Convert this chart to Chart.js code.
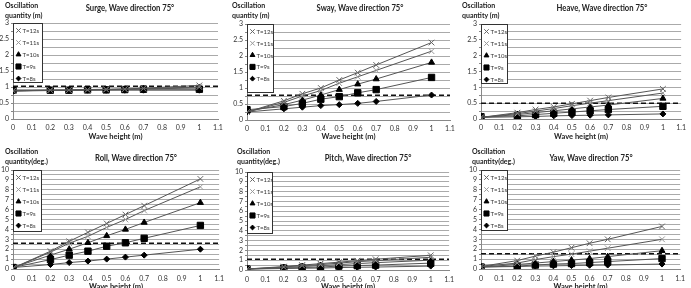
<!DOCTYPE html>
<html>
<head>
<meta charset="utf-8">
<script src="https://cdn.jsdelivr.net/npm/chart.js@4.4.1/dist/chart.umd.min.js"></script>
<style>
  body { margin: 0; background: #fff; }
  #wrap { position: relative; width: 691px; height: 288px; overflow: hidden; }
  canvas { position: absolute; }
</style>
</head>
<body>
<div id="wrap">
  <canvas id="cSurge" width="230" height="144" style="left:0;top:0"></canvas>
  <canvas id="cSway" width="230" height="144" style="left:230px;top:0"></canvas>
  <canvas id="cHeave" width="231" height="144" style="left:460px;top:0"></canvas>
  <canvas id="cRoll" width="230" height="144" style="left:0;top:144px"></canvas>
  <canvas id="cPitch" width="230" height="144" style="left:230px;top:144px"></canvas>
  <canvas id="cYaw" width="231" height="144" style="left:460px;top:144px"></canvas>
</div>
<script>
// wave heights (m)
var waveHeight = [0, 0.2, 0.3, 0.4, 0.5, 0.6, 0.7, 1.0];
var periods = ['T=12s', 'T=11s', 'T=10s', 'T=9s', 'T=8s'];
var xTicks = ['0', '0.1', '0.2', '0.3', '0.4', '0.5', '0.6', '0.7', '0.8', '0.9', '1', '1.1'];

// rows: T=12s, T=11s, T=10s, T=9s, T=8s
var surge = [
    [0.88, 0.90, 0.91, 0.92, 0.93, 0.94, 0.96, 1.05],
    [0.88, 0.90, 0.90, 0.91, 0.92, 0.93, 0.95, 1.00],
    [0.90, 0.90, 0.90, 0.91, 0.92, 0.93, 0.94, 0.97],
    [0.90, 0.90, 0.90, 0.91, 0.91, 0.92, 0.93, 0.93],
    [0.87, 0.89, 0.89, 0.90, 0.90, 0.90, 0.90, 0.90]
];
var sway = [
    [0.25, 0.60, 0.82, 1.00, 1.25, 1.48, 1.72, 2.42],
    [0.25, 0.55, 0.75, 0.92, 1.15, 1.35, 1.55, 2.15],
    [0.27, 0.48, 0.62, 0.78, 0.95, 1.12, 1.28, 1.80],
    [0.32, 0.42, 0.52, 0.65, 0.73, 0.85, 0.95, 1.33],
    [0.25, 0.35, 0.40, 0.45, 0.48, 0.52, 0.58, 0.78]
];
var heave = [
    [0.05, 0.20, 0.30, 0.38, 0.48, 0.58, 0.68, 0.95],
    [0.05, 0.17, 0.25, 0.33, 0.42, 0.50, 0.58, 0.82],
    [0.05, 0.14, 0.20, 0.26, 0.32, 0.38, 0.44, 0.65],
    [0.07, 0.10, 0.14, 0.18, 0.22, 0.26, 0.30, 0.40],
    [0.05, 0.07, 0.08, 0.10, 0.11, 0.12, 0.13, 0.16]
];
var roll = [
    [0.10, 1.80, 2.80, 3.70, 4.60, 5.50, 6.40, 9.10],
    [0.10, 1.70, 2.60, 3.30, 4.20, 5.00, 5.90, 8.30],
    [0.15, 1.40, 2.00, 2.65, 3.35, 4.00, 4.70, 6.70],
    [0.15, 0.95, 1.40, 1.80, 2.30, 2.65, 3.10, 4.40],
    [0.15, 0.45, 0.65, 0.80, 1.00, 1.20, 1.40, 2.00]
];
var pitch = [
    [0.10, 0.35, 0.50, 0.65, 0.80, 0.95, 1.10, 1.50],
    [0.10, 0.30, 0.45, 0.55, 0.70, 0.85, 0.95, 1.30],
    [0.10, 0.25, 0.35, 0.45, 0.55, 0.65, 0.75, 1.00],
    [0.10, 0.20, 0.25, 0.30, 0.40, 0.45, 0.50, 0.70],
    [0.10, 0.15, 0.18, 0.20, 0.25, 0.28, 0.30, 0.40]
];
var yaw = [
    [0.25, 0.85, 1.30, 1.70, 2.15, 2.60, 3.00, 4.30],
    [0.25, 0.60, 0.95, 1.25, 1.50, 1.80, 2.10, 3.00],
    [0.20, 0.45, 0.60, 0.75, 0.90, 1.05, 1.25, 1.85],
    [0.20, 0.30, 0.40, 0.50, 0.55, 0.65, 0.75, 1.05],
    [0.20, 0.25, 0.30, 0.32, 0.35, 0.38, 0.40, 0.50]
];
// dashed limit lines
var limits = [1.02, 0.77, 0.5, 2.6, 1.1, 1.55];

var markers = ['crossRot', 'crossRot', 'triangle', 'rect', 'rectRot'];
var markColors = ['#666', '#999', '#000', '#000', '#000'];
var markSizes = [4, 4, 3.5, 4.5, 3];

// draws title, axis captions and the boxed legend
var panelText = {
    id: 'panelText',
    afterDatasetsDraw: function (chart, args, o) {
        var ctx = chart.ctx, ca = chart.chartArea;
        ctx.save();
        // legend box
        var lx = ca.left + 0.5, ly = ca.top + 0.5;
        ctx.fillStyle = '#fff';
        ctx.fillRect(lx, ly, o.legW, o.legH);
        ctx.strokeStyle = '#333';
        ctx.lineWidth = 1;
        ctx.strokeRect(lx, ly, o.legW, o.legH);
        ctx.font = '6px Lato';
        ctx.textBaseline = 'middle';
        ctx.textAlign = 'left';
        for (var i = 0; i < periods.length; i++) {
            var d = chart.data.datasets[i];
            var cy = ly + 7 + i * o.legStep;
            ctx.fillStyle = d.pointBackgroundColor;
            ctx.strokeStyle = d.pointBorderColor;
            Chart.helpers.drawPoint(ctx, {pointStyle: d.pointStyle, radius: d.pointRadius * 0.8, borderWidth: 1, rotation: 0}, lx + 5, cy);
            ctx.fillStyle = '#333';
            ctx.fillText(d.label, lx + 9, cy + 0.5);
        }
        // title (slightly condensed, like the original narrow face)
        ctx.fillStyle = '#222';
        ctx.textAlign = 'center';
        ctx.font = 'bold 8.5px Lato';
        ctx.save();
        ctx.translate(o.titleX, o.titleY);
        ctx.scale(0.9, 1);
        ctx.fillText(o.title, 0, 0);
        ctx.restore();
        // y caption
        ctx.textAlign = 'left';
        ctx.font = 'bold 7px Lato';
        ctx.fillText('Oscillation', o.yLabX, o.yLabY);
        ctx.fillText(o.unit, o.yLabX, o.yLabY + 9.5);
        // x caption
        ctx.textAlign = 'center';
        ctx.font = 'bold 7.5px Lato';
        ctx.fillText('Wave height (m)', (ca.left + ca.right) / 2, o.xLabY);
        ctx.restore();
    }
};

function makeChart(id, values, limit, p) {
    var sets = periods.map(function (name, i) {
        return {
            label: name,
            data: values[i].map(function (v, j) { return {x: waveHeight[j], y: v}; }),
            showLine: true,
            borderColor: '#555',
            borderWidth: 1,
            pointStyle: markers[i],
            pointRadius: markSizes[i],
            pointBackgroundColor: markColors[i],
            pointBorderColor: markColors[i],
            pointBorderWidth: 1
        };
    });
    sets.push({
        label: 'limit',
        data: [{x: 0, y: limit}, {x: 1.1, y: limit}],
        showLine: true,
        borderColor: '#111',
        borderWidth: 1.5,
        borderDash: [5, 3],
        pointRadius: 0
    });

    new Chart(document.getElementById(id).getContext('2d'), {
        type: 'scatter',
        data: {datasets: sets},
        plugins: [panelText],
        options: {
            responsive: false,
            animation: false,
            devicePixelRatio: 1,
            layout: {padding: {top: p.top, right: p.right, left: 0, bottom: 0}},
            plugins: {
                legend: {display: false},
                tooltip: {enabled: false},
                panelText: p
            },
            scales: {
                x: {
                    type: 'linear',
                    min: 0,
                    max: 1.1,
                    afterFit: function (s) { s.height = p.bottom; },
                    afterBuildTicks: function (s) {
                        s.ticks = xTicks.map(function (t) { return {value: parseFloat(t)}; });
                    },
                    ticks: {
                        autoSkip: false,
                        maxRotation: 0,
                        padding: p.xPad,
                        color: '#333',
                        font: {family: 'Lato', size: 7},
                        callback: function (v, i) { return xTicks[i]; }
                    },
                    grid: {display: false, drawTicks: false},
                    border: {color: '#888'}
                },
                y: {
                    min: 0,
                    max: p.ymax,
                    afterFit: function (s) { s.width = p.left; },
                    ticks: {
                        autoSkip: false,
                        stepSize: p.minor,
                        padding: 2,
                        color: '#333',
                        font: {family: 'Lato', size: 7},
                        callback: function (v) {
                            var r = v / p.major;
                            return Math.abs(r - Math.round(r)) < 1e-6 ? String(Math.round(v * 100) / 100) : '';
                        }
                    },
                    grid: {color: '#aaa', tickLength: 2, tickColor: '#888'},
                    border: {color: '#888'}
                }
            }
        }
    });
}

makeChart('cSurge', surge, limits[0], {title: 'Surge, Wave direction 75\u00b0', unit: 'quantity (m)',
    titleX: 130, titleY: 8, yLabX: 5, yLabY: 6, xLabY: 137, left: 13, right: 12, top: 23, bottom: 25, xPad: 5,
    ymax: 3, minor: 0.25, major: 0.5, legW: 29, legH: 59, legStep: 12});
makeChart('cSway', sway, limits[1], {title: 'Sway, Wave direction 75\u00b0', unit: 'quantity (m)',
    titleX: 130, titleY: 8, yLabX: 2, yLabY: 6, xLabY: 137, left: 17, right: 10, top: 24, bottom: 24, xPad: 5,
    ymax: 3, minor: 0.25, major: 0.5, legW: 26, legH: 68, legStep: 11.8});
makeChart('cHeave', heave, limits[2], {title: 'Heave, Wave direction 75\u00b0', unit: 'quantity (m)',
    titleX: 142, titleY: 8, yLabX: 2, yLabY: 6, xLabY: 137, left: 21, right: 4, top: 24, bottom: 25, xPad: 5,
    ymax: 3, minor: 0.25, major: 0.5, legW: 26, legH: 59, legStep: 12});
makeChart('cRoll', roll, limits[3], {title: 'Roll, Wave direction 75\u00b0', unit: 'quantity(deg.)',
    titleX: 136, titleY: 14, yLabX: 5, yLabY: 8, xLabY: 143, left: 13, right: 9, top: 26, bottom: 19, xPad: 6,
    ymax: 10, minor: 0.5, major: 1, legW: 28, legH: 61, legStep: 12});
makeChart('cPitch', pitch, limits[4], {title: 'Pitch, Wave direction 75\u00b0', unit: 'quantity(deg.)',
    titleX: 138, titleY: 14, yLabX: 7, yLabY: 8, xLabY: 143, left: 17, right: 3, top: 28, bottom: 18, xPad: 6,
    ymax: 10, minor: 0.5, major: 1, legW: 25, legH: 61, legStep: 12});
makeChart('cYaw', yaw, limits[5], {title: 'Yaw, Wave direction 75\u00b0', unit: 'quantity(deg.)',
    titleX: 131, titleY: 14, yLabX: 12, yLabY: 8, xLabY: 143, left: 21, right: 4, top: 26, bottom: 19, xPad: 6,
    ymax: 10, minor: 0.5, major: 1, legW: 26, legH: 60, legStep: 12});
</script>
</body>
</html>
